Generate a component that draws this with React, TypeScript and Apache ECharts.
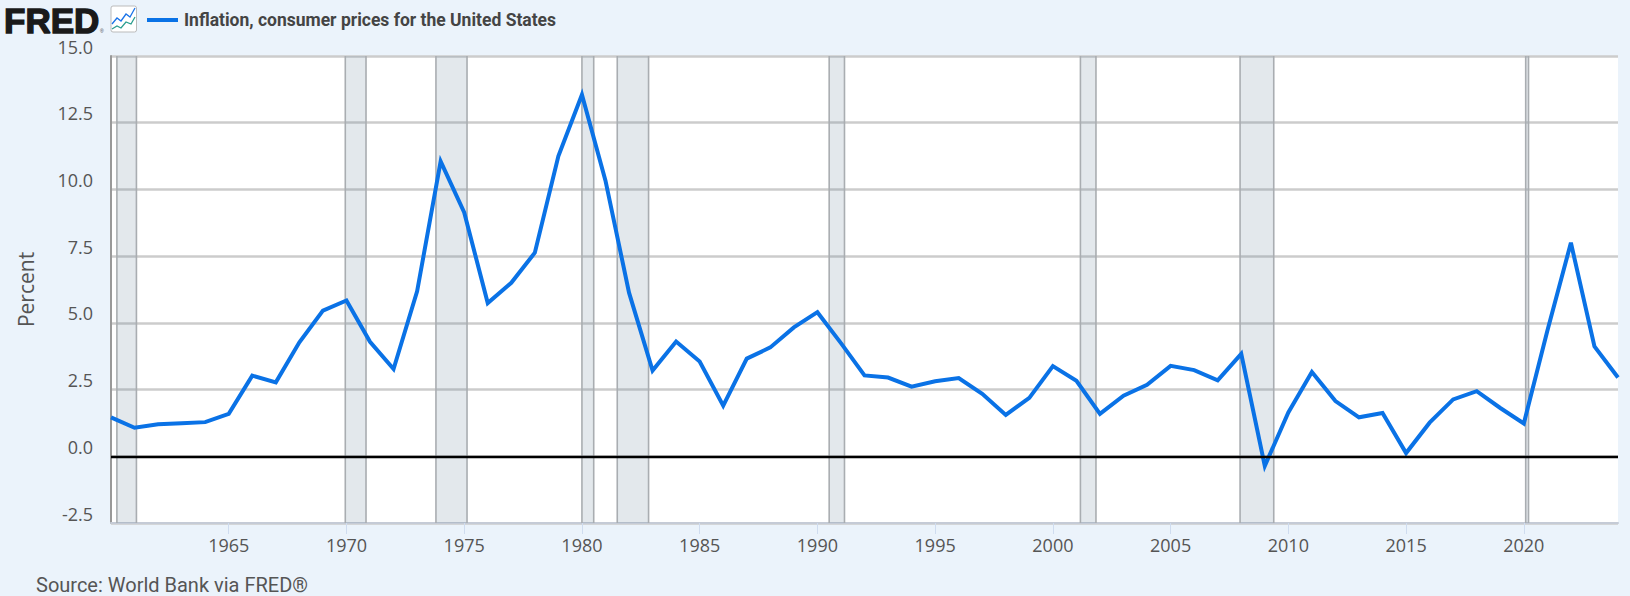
import React, { useEffect, useRef } from "react";
import * as echarts from "echarts";

const years = [1960,1961,1962,1963,1964,1965,1966,1967,1968,1969,1970,1971,1972,1973,1974,1975,1976,1977,1978,1979,1980,1981,1982,1983,1984,1985,1986,1987,1988,1989,1990,1991,1992,1993,1994,1995,1996,1997,1998,1999,2000,2001,2002,2003,2004,2005,2006,2007,2008,2009,2010,2011,2012,2013,2014,2015,2016,2017,2018,2019,2020,2021,2022,2023,2024];
const inflation = [1.46,1.07,1.2,1.24,1.28,1.59,3.02,2.77,4.27,5.46,5.84,4.29,3.27,6.18,11.05,9.14,5.74,6.5,7.63,11.25,13.55,10.33,6.13,3.21,4.3,3.55,1.9,3.66,4.08,4.83,5.4,4.24,3.03,2.95,2.61,2.81,2.93,2.34,1.55,2.19,3.38,2.83,1.59,2.27,2.68,3.39,3.23,2.85,3.84,-0.36,1.64,3.16,2.07,1.46,1.62,0.12,1.26,2.13,2.44,1.81,1.23,4.7,8.0,4.12,2.95];
const recessionStart = [1960.25,1969.95,1973.8,1980.0,1981.5,1990.5,2001.17,2007.95,2020.08];
const recessionEnd = [1961.08,1970.83,1975.12,1980.5,1982.83,1991.15,2001.83,2009.38,2020.2];
const xTicks = [1965,1970,1975,1980,1985,1990,1995,2000,2005,2010,2015,2020];
const seriesName = "Inflation, consumer prices for the United States";
const sourceText = "Source: World Bank via FRED®";

const LOGO_BLUE = "1,18 6,12 10,15 15,8 19,11 24,2";
const LOGO_GREEN = "1,23 6,20 10,22 15,16 20,18 24,11";

export default function App() {
  const ref = useRef<HTMLDivElement>(null);
  useEffect(() => {
    const chart = echarts.init(ref.current!, null, { renderer: "svg" });
    chart.setOption({
      animation: false,
      backgroundColor: "#ebf3fb",
      grid: { left: 111, right: 12, top: 56, bottom: 73, backgroundColor: "#fff", show: true, borderWidth: 0 },
      legend: {
        left: 142, top: 6, icon: "rect", itemWidth: 31, itemHeight: 4,
        data: [seriesName],
        textStyle: { fontFamily: "Roboto", fontWeight: "bold", fontSize: 17.5, color: "#444", padding: [0, 0, 0, 1] },
      },
      xAxis: {
        type: "value", min: 1960, max: 2024, interval: 5,
        splitLine: { show: false },
        axisLine: { onZero: false, lineStyle: { color: "#c5cbd6", width: 2 } },
        axisTick: { length: 11, customValues: xTicks, lineStyle: { color: "#cfdcef", width: 1 } },
        axisLabel: { customValues: xTicks, formatter: (v: number) => String(v), margin: 13, fontFamily: "Open Sans", fontSize: 18, color: "#555" },
      },
      yAxis: {
        type: "value", min: -2.5, max: 15, interval: 2.5,
        name: "Percent", nameLocation: "middle", nameGap: 75, nameRotate: 90,
        nameTextStyle: { fontFamily: "Open Sans", fontSize: 21, color: "#555" },
        axisLine: { show: true, onZero: false, lineStyle: { color: "#999", width: 2 } },
        axisTick: { show: false },
        splitLine: { showMinLine: true, showMaxLine: true, lineStyle: { color: "#ccc", width: 2.5 } },
        axisLabel: {
          formatter: (v: number) => v.toFixed(1), margin: 18, verticalAlign: "bottom", lineHeight: 19,
          verticalAlignMinLabel: "bottom", verticalAlignMaxLabel: "bottom",
          fontFamily: "Open Sans", fontSize: 18, color: "#555",
        },
      },
      series: [
        {
          type: "custom", name: "Recessions", silent: true, z: 1,
          data: recessionStart.map((s, i) => [s, recessionEnd[i]]),
          encode: { x: [0, 1] },
          clip: true,
          renderItem: (_: any, api: any) => {
            const x0 = api.coord([api.value(0), 15]);
            const x1 = api.coord([api.value(1), -2.5]);
            const line = (x: number) => ({
              type: "line",
              shape: { x1: x, y1: x0[1], x2: x, y2: x1[1] },
              style: { stroke: "#a9adb1", lineWidth: 1.6 },
            });
            return {
              type: "group",
              children: [
                { type: "rect", shape: { x: x0[0], y: x0[1], width: x1[0] - x0[0], height: x1[1] - x0[1] }, style: { fill: "rgba(100,125,150,0.18)" } },
                line(x0[0]),
                line(x1[0]),
              ],
            };
          },
        },
        {
          type: "line", name: seriesName, z: 3,
          data: years.map((y, i) => [y, inflation[i]]),
          symbol: "none", color: "#0a72e6",
          lineStyle: { width: 4, color: "#0a72e6", join: "miter" },
          markLine: {
            silent: true, symbol: "none", label: { show: false }, animation: false,
            lineStyle: { color: "#000", width: 2.4, type: "solid" },
            data: [{ yAxis: 0 }],
          },
        },
      ],
      graphic: [
        { type: "text", x: 4, y: 6.5, style: { text: "FRED", fontFamily: "Liberation Sans", fontWeight: "bold", fontSize: 35, lineHeight: 28, fill: "#1a1a1a", stroke: "#1a1a1a", lineWidth: 1.4 } },
        { type: "text", x: 100, y: 28, style: { text: "®", fontFamily: "Liberation Sans", fontSize: 5, fill: "#444" } },
        { type: "rect", shape: { x: 111, y: 6, width: 25.5, height: 26, r: 2 }, style: { fill: "#fff", stroke: "#bbb", lineWidth: 1 } },
        { type: "polyline", x: 111, y: 6, shape: { points: LOGO_BLUE.split(" ").map((p) => p.split(",").map(Number)) }, style: { fill: "none", stroke: "#1a73e8", lineWidth: 1.3 } },
        { type: "polyline", x: 111, y: 6, shape: { points: LOGO_GREEN.split(" ").map((p) => p.split(",").map(Number)) }, style: { fill: "none", stroke: "#2a9d8f", lineWidth: 1.3 } },
        { type: "text", x: 36, y: 575, style: { text: sourceText, fontFamily: "Roboto", fontSize: 20, fill: "#555" } },
      ],
    });
    return () => chart.dispose();
  }, []);
  return <div ref={ref} style={{ position: "fixed", left: 0, top: 0, width: 1630, height: 596 }} />;
}
